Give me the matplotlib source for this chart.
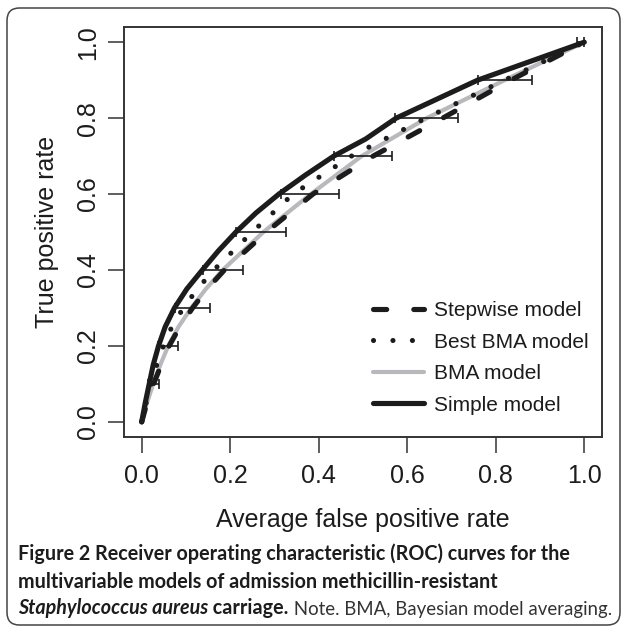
import matplotlib
matplotlib.use("Agg")
import matplotlib.pyplot as plt
from matplotlib.patches import FancyBboxPatch

# --- 데이터 ---
# Simple model (solid black)
simple_tpr = [0, 0.05, 0.1, 0.15, 0.2, 0.25, 0.3, 0.35, 0.4, 0.45, 0.5, 0.55, 0.6, 0.65, 0.7, 0.745, 0.8, 0.9, 1.0]
simple_fpr = [0, 0.008, 0.017, 0.026, 0.038, 0.053, 0.074, 0.102, 0.137, 0.173, 0.213, 0.258, 0.310, 0.370, 0.434, 0.506, 0.575, 0.759, 1.0]

# common TPR levels for the other three curves
tpr_levels = [0, 0.05, 0.1, 0.15, 0.2, 0.25, 0.3, 0.35, 0.4, 0.5, 0.6, 0.7, 0.8, 0.9, 1.0]
bma_fpr = [0, 0.012, 0.026, 0.042, 0.060, 0.083, 0.112, 0.145, 0.183, 0.275, 0.382, 0.497, 0.644, 0.820, 1.0]
stepwise_fpr = [0, 0.012, 0.027, 0.044, 0.062, 0.086, 0.115, 0.148, 0.187, 0.282, 0.387, 0.523, 0.680, 0.834, 1.0]
best_bma_fpr = [0, 0.010, 0.022, 0.034, 0.049, 0.068, 0.094, 0.126, 0.163, 0.250, 0.342, 0.474, 0.642, 0.820, 1.0]

# horizontal error bars
bar_tpr = [0.1, 0.2, 0.3, 0.4, 0.5, 0.6, 0.7, 0.8, 0.9, 1.0]
bar_lo = [0.014, 0.037, 0.076, 0.139, 0.214, 0.314, 0.434, 0.573, 0.759, 0.983]
bar_hi = [0.038, 0.082, 0.154, 0.229, 0.327, 0.445, 0.566, 0.715, 0.881, 1.0]

ticks = [0.0, 0.2, 0.4, 0.6, 0.8, 1.0]
tick_labels = ["0.0", "0.2", "0.4", "0.6", "0.8", "1.0"]

labels = ["Stepwise model", "Best BMA model", "BMA model", "Simple model"]
x_label = "Average false positive rate"
y_label = "True positive rate"

caption_1 = "Figure 2 Receiver operating characteristic (ROC) curves for the"
caption_2 = "multivariable models of admission methicillin-resistant"
caption_3a = "Staphylococcus aureus"
caption_3b = " carriage."
caption_3c = " Note. BMA, Bayesian model averaging."

# --- 스타일 ---
plt.rcParams["font.family"] = ["Liberation Sans", "DejaVu Sans"]
plt.rcParams["lines.scale_dashes"] = False
INK = "#1c1c1c"
GRAY = "#b9b9bd"
LW = 3.7

fig = plt.figure(figsize=(6.24, 6.30), dpi=100)
ax = fig.add_axes([124 / 624, 1 - 437 / 630, 478 / 624, 410 / 630])

# curves
bma_line, = ax.plot(bma_fpr, tpr_levels, color=GRAY, lw=3.0, solid_capstyle="round", zorder=2)
step_line, = ax.plot(stepwise_fpr, tpr_levels, color=INK, lw=LW, dash_capstyle="round", zorder=3)
step_line.set_dashes([9.5, 19.5])
best_line, = ax.plot(best_bma_fpr, tpr_levels, color=INK, lw=LW, dash_capstyle="round", zorder=3)
best_line.set_dashes([0.01, 14.0])
simple_line, = ax.plot(simple_fpr, simple_tpr, color=INK, lw=LW, solid_capstyle="round",
                       solid_joinstyle="round", zorder=4)

# error bars
ax.hlines(bar_tpr, bar_lo, bar_hi, color=INK, lw=1.2, zorder=5)
ax.vlines(bar_lo, [t - 0.013 for t in bar_tpr], [t + 0.013 for t in bar_tpr], color=INK, lw=1.2, zorder=5)
ax.vlines(bar_hi, [t - 0.013 for t in bar_tpr], [t + 0.013 for t in bar_tpr], color=INK, lw=1.2, zorder=5)

ax.set_xlim(-0.04, 1.04)
ax.set_ylim(-0.04, 1.04)
ax.set_xticks(ticks)
ax.set_xticklabels(tick_labels)
ax.set_yticks(ticks)
ax.set_yticklabels(tick_labels, rotation=90, va="center")
ax.tick_params(direction="out", length=11.5, width=1.1, color="#333333",
               labelsize=18, labelcolor=INK, pad=8)
ax.tick_params(axis="y", pad=6)
for sp in ax.spines.values():
    sp.set_color("#333333")
    sp.set_linewidth(1.4)

ax.set_xlabel(x_label, fontsize=18, color=INK, labelpad=14)
ax.set_ylabel(y_label, fontsize=18, color=INK, labelpad=12)

leg = ax.legend([step_line, best_line, bma_line, simple_line], labels,
                frameon=False, fontsize=15, loc="upper left",
                bbox_to_anchor=(0.503, 0.352), handlelength=2.45,
                handletextpad=0.5, labelspacing=0.6, borderaxespad=0)
for t in leg.get_texts():
    t.set_color(INK)

# --- caption ---
cap_font = ["Lato", "DejaVu Sans"]
cap_size = 14.2
fig.text(18 / 624, 1 - 560 / 630, caption_1, fontsize=cap_size, fontweight="bold",
         family=cap_font, color=INK, va="baseline")
fig.text(18 / 624, 1 - 588 / 630, caption_2, fontsize=cap_size, fontweight="bold",
         family=cap_font, color=INK, va="baseline")
t3a = fig.text(18 / 624, 1 - 614 / 630, caption_3a, fontsize=cap_size, fontweight="bold",
               style="italic", family=cap_font, color=INK, va="baseline")
t3b = ax.annotate(caption_3b, xy=(1, 0), xycoords=t3a, fontsize=cap_size, fontweight="bold",
                  family=cap_font, color=INK, va="bottom", ha="left", annotation_clip=False)
t3c = ax.annotate(caption_3c, xy=(1, 0), xycoords=t3b, fontsize=13.4,
                  family=cap_font, color="#333333", va="bottom", ha="left", annotation_clip=False)

# rounded frame around whole figure
frame = FancyBboxPatch((7 / 624, 5 / 630), 613 / 624, 617 / 630,
                       boxstyle="round,pad=0.0,rounding_size=0.02",
                       transform=fig.transFigure, fill=False,
                       edgecolor="#444444", lw=1.1)
fig.patches.append(frame)

fig.savefig("out.png", dpi=100)
